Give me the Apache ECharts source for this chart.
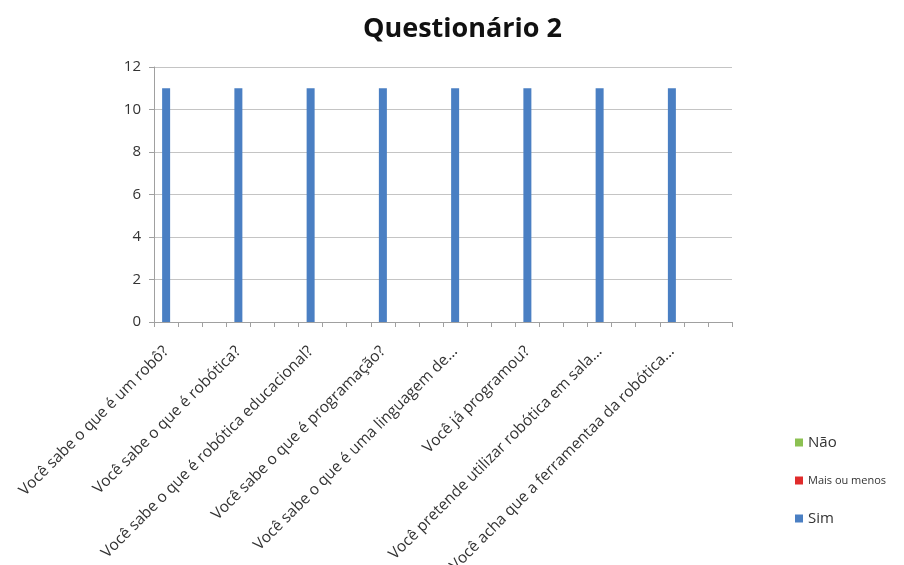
<!DOCTYPE html>
<html>
<head>
<meta charset="utf-8">
<script src="https://cdn.jsdelivr.net/npm/echarts@6/dist/echarts.min.js"></script>
<style>
  html, body { margin: 0; padding: 0; background: #fff; }
  #main { width: 904px; height: 565px; }
</style>
</head>
<body>
<div id="main"></div>
<script>
// questions (labels as shown, truncated like the original)
var categories = [
    'Você sabe o que é um robô?',
    'Você sabe o que é robótica?',
    'Você sabe o que é robótica educacional?',
    'Você sabe o que é programação?',
    'Você sabe o que é uma linguagem de...',
    'Você já programou?',
    'Você pretende utilizar robótica em sala...',
    'Você acha que a ferramentaa da robótica...'
];
var simValues = [11, 11, 11, 11, 11, 11, 11, 11];
var maisOuMenosValues = [0, 0, 0, 0, 0, 0, 0, 0];
var naoValues = [0, 0, 0, 0, 0, 0, 0, 0];
var yTicks = [0, 2, 4, 6, 8, 10, 12];

// the original axis has three tick slots per question, label on the first
var slotsPerQuestion = 3;
var slotIds = [];
for (var i = 0; i < categories.length * slotsPerQuestion; i++) slotIds.push('s' + i);

window.onload = function () {
    var chartDom = document.getElementById('main');
    var myChart = echarts.init(chartDom);
    var option;
    option = {
        backgroundColor: '#fff',
        textStyle: { fontFamily: 'Open Sans' },
        title: {
            text: 'Questionário 2',
            left: 358,
            top: 11,
            textStyle: { fontFamily: 'Open Sans', fontWeight: 'bold', fontSize: 27, color: '#111' }
        },
        legend: {
            orient: 'vertical',
            left: 790,
            top: 430,
            itemWidth: 8,
            itemHeight: 8,
            itemGap: 25,
            icon: 'rect',
            data: ['Não', 'Mais ou menos', 'Sim'],
            formatter: function (name) {
                return name === 'Mais ou menos' ? '{s|' + name + '}' : name;
            },
            textStyle: {
                fontSize: 15,
                color: '#333',
                rich: { s: { fontSize: 11, color: '#333' } }
            }
        },
        grid: { left: 154, right: 172, top: 67, bottom: 243, outerBoundsMode: 'none' },
        xAxis: [
            {
                type: 'category',
                data: categories,
                axisLine: { lineStyle: { color: '#a0a0a0' } },
                axisTick: { show: false },
                axisLabel: { show: false }
            },
            {
                type: 'category',
                data: slotIds,
                position: 'bottom',
                axisLine: { show: false },
                axisTick: { show: true, length: 5, interval: 0, lineStyle: { color: '#a0a0a0' } },
                axisLabel: {
                    interval: 0,
                    rotate: 45,
                    margin: 27,
                    fontSize: 15.5,
                    color: '#333',
                    fontFamily: 'Open Sans',
                    formatter: function (v, idx) {
                        return idx % slotsPerQuestion === 0 ? categories[idx / slotsPerQuestion] : '';
                    }
                }
            }
        ],
        yAxis: {
            type: 'value',
            min: yTicks[0],
            max: yTicks[yTicks.length - 1],
            interval: 2,
            axisLine: { show: true, lineStyle: { color: '#a0a0a0' } },
            axisTick: { show: true, length: 5, lineStyle: { color: '#a0a0a0' } },
            axisLabel: { fontSize: 15, color: '#333', margin: 13 },
            splitLine: { lineStyle: { color: '#c4c4c4' } }
        },
        series: [
            {
                name: 'Sim',
                type: 'bar',
                xAxisIndex: 0,
                barWidth: 8,
                barGap: '200%',
                itemStyle: { color: '#4a7fc3' },
                data: simValues
            },
            {
                name: 'Mais ou menos',
                type: 'bar',
                xAxisIndex: 0,
                barWidth: 8,
                itemStyle: { color: '#e02b2b' },
                data: maisOuMenosValues
            },
            {
                name: 'Não',
                type: 'bar',
                xAxisIndex: 0,
                barWidth: 8,
                itemStyle: { color: '#8cc152' },
                data: naoValues
            }
        ]
    };
    option && myChart.setOption(option);
};
</script>
</body>
</html>
